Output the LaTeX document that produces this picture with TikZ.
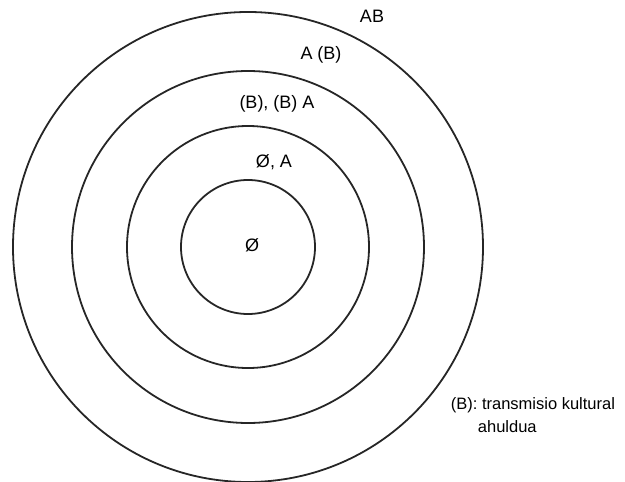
\documentclass[tikz,border=0pt]{standalone}
\usepackage{fontspec}
\setmainfont{Liberation Sans}
\usetikzlibrary{positioning}

\begin{document}
\begin{tikzpicture}[x=1pt, y=-1pt, line width=1.8pt,
    ring/.style={draw=black!85, circle, inner sep=0pt},
    lbl/.style={font=\fontsize{18}{21}\selectfont, inner sep=0pt},
    note/.style={font=\fontsize{16.5}{19}\selectfont, inner sep=0pt, anchor=west}]
    \useasboundingbox (0,0) rectangle (625,482);
    % Zentroa
    \coordinate (O) at (248,247);

    % Zirkuluak
    \node[ring, minimum size=470pt] (r4) at (O) {};
    \node[ring, minimum size=352pt] (r3) at (O) {};
    \node[ring, minimum size=242pt] (r2) at (O) {};
    \node[ring, minimum size=134pt] (r1) at (O) {};

    % Etiketak
    \node[lbl] (e0) at (252,245) {Ø};
    \node[lbl] (e1) at (274,162) {Ø, A};
    \node[lbl] (e2) at (277,104) {(B), (B) A};
    \node[lbl] (e3) at (321,55) {A (B)};
    \node[lbl] (e4) at (372,16) {AB};

    % Oharra
    \node[note] (n1) at (450,405) {(B): transmisio kultural};
    \node[note] (n2) at (477,427) {ahuldua};
\end{tikzpicture}
\end{document}
